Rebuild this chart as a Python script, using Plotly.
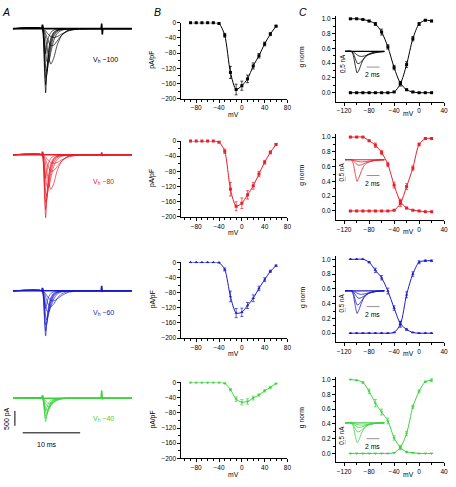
import plotly.graph_objects as go

W, H = 456, 487

def fx(x):
    return x / W

def fy(y):
    return 1 - y / H

COLORS = ["#000000", "#e8202a", "#1c1cc8", "#3fd23f"]
VH_LABELS = ["V<sub>h</sub> −100", "V<sub>h</sub> −80", "V<sub>h</sub> −60", "V<sub>h</sub> −40"]
SYMBOLS = ["square", "square", "triangle-up", "triangle-down"]

# ---------------- A: current traces (ms, pA) ----------------
T_A = [0, 5.1, 5.3, 5.5, 5.7, 5.9, 6.2, 6.6, 7.1, 7.7, 8.5, 9.6, 11.0, 13.0, 20.7]

A_ROW1 = [
    [0, 0, -300, -1400, -2170, -1450, -750, -320, -120, -45, -12, 0, 0, 0, 0],
    [0, 0, -250, -1150, -1900, -1500, -850, -400, -150, -55, -15, -3, 0, 0, 0],
    [0, 0, -200, -900, -1650, -1550, -1000, -480, -190, -70, -20, -5, 0, 0, 0],
    [0, 0, -150, -650, -1300, -1450, -1150, -620, -260, -95, -30, -8, 0, 0, 0],
    [0, 0, -100, -380, -800, -1100, -1150, -800, -400, -160, -55, -12, 0, 0, 0],
    [0, 0, -50, -150, -330, -580, -930, -1200, -1000, -560, -220, -50, -8, 0, 0],
    [0, 0, -30, -80, -170, -290, -440, -580, -560, -420, -220, -70, -15, 0, 0],
    [0, 0, -15, -40, -80, -130, -200, -270, -300, -270, -180, -80, -25, -5, 0],
    [0, 0, -120, -500, -850, -600, -300, -130, -50, -15, -5, 0, 0, 0, 0],
]
A_ROW2 = [
    [0, 0, -280, -1350, -2130, -1420, -730, -310, -115, -40, -10, 0, 0, 0, 0],
    [0, 0, -240, -1100, -1850, -1450, -820, -380, -140, -50, -14, -3, 0, 0, 0],
    [0, 0, -190, -850, -1600, -1500, -980, -470, -180, -65, -18, -4, 0, 0, 0],
    [0, 0, -140, -620, -1250, -1400, -1120, -600, -250, -90, -28, -7, 0, 0, 0],
    [0, 0, -95, -360, -760, -1050, -1100, -780, -390, -150, -50, -10, 0, 0, 0],
    [0, 0, -45, -140, -320, -560, -900, -1170, -980, -540, -210, -45, -7, 0, 0],
    [0, 0, -28, -75, -160, -280, -420, -560, -540, -400, -210, -65, -12, 0, 0],
    [0, 0, -14, -38, -75, -125, -190, -260, -290, -260, -170, -75, -22, -4, 0],
    [0, 0, -110, -470, -800, -570, -280, -120, -45, -14, -4, 0, 0, 0, 0],
]
A_ROW3 = [
    [0, 0, -220, -1000, -1530, -1050, -540, -230, -85, -30, -8, 0, 0, 0, 0],
    [0, 0, -180, -820, -1350, -1100, -620, -290, -110, -40, -10, 0, 0, 0, 0],
    [0, 0, -140, -620, -1150, -1100, -730, -360, -140, -50, -14, -3, 0, 0, 0],
    [0, 0, -100, -430, -850, -980, -800, -450, -190, -70, -20, -5, 0, 0, 0],
    [0, 0, -60, -230, -480, -680, -720, -540, -280, -110, -35, -8, 0, 0, 0],
    [0, 0, -30, -90, -200, -330, -480, -540, -450, -260, -100, -25, -4, 0, 0],
    [0, 0, -15, -45, -95, -160, -240, -320, -340, -280, -160, -55, -12, 0, 0],
    [0, 0, -90, -350, -600, -430, -210, -90, -35, -10, -3, 0, 0, 0, 0],
]
A_ROW4 = [
    [0, 0, -120, -520, -800, -560, -290, -130, -50, -18, -5, 0, 0, 0, 0],
    [0, 0, -100, -430, -700, -580, -340, -160, -60, -22, -6, 0, 0, 0, 0],
    [0, 0, -80, -330, -600, -560, -380, -190, -75, -28, -8, 0, 0, 0, 0],
    [0, 0, -55, -230, -470, -500, -400, -230, -95, -35, -10, 0, 0, 0, 0],
    [0, 0, -35, -140, -320, -400, -380, -260, -120, -45, -12, -2, 0, 0, 0],
    [0, 0, -20, -70, -170, -250, -290, -250, -150, -65, -20, -4, 0, 0, 0],
    [0, 0, -10, -35, -80, -130, -170, -170, -130, -70, -25, -6, 0, 0, 0],
    [0, 0, -70, -280, -450, -320, -160, -70, -25, -8, -2, 0, 0, 0, 0],
]
A_ROWS = [A_ROW1, A_ROW2, A_ROW3, A_ROW4]

# baseline with stimulus artifacts
ART_T = [0, 5.0, 5.15, 5.3, 15.35, 15.45, 15.55, 15.65, 20.7]
ART_ROWS = [
    [0, 0, 130, 0, 0, 170, -200, 0, 0],
    [0, 0, 100, 0, 0, 80, -40, 0, 0],
    [0, 0, 100, 0, 0, 170, -40, 0, 0],
    [0, 0, 100, 0, 0, 260, -40, 0, 0],
]

# ---------------- B: I-V (mV, pA/pF) ----------------
V_B = [-90, -80, -70, -60, -50, -40, -30, -20, -10, 0, 10, 20, 30, 40, 50, 60]
B_MEAN = [
    [0, 0, 0, 0, 0, -2, -33, -131, -176, -166, -148, -114, -87, -56, -30, -9],
    [0, 0, 0, 0, 0, -3, -27, -127, -172, -164, -142, -118, -87, -56, -30, -9],
    [0, 0, 0, 0, 0, -1, -19, -90, -134, -132, -114, -95, -69, -46, -24, -9],
    [0, 0, 0, 0, 0, 0, -2, -19, -44, -52, -50, -41, -33, -22, -13, -3],
]
B_ERR = [
    [1, 1, 1, 1, 1, 2, 5, 16, 14, 12, 10, 8, 6, 5, 4, 2],
    [1, 1, 1, 1, 1, 2, 6, 18, 12, 14, 11, 9, 7, 5, 4, 2],
    [1, 1, 1, 1, 1, 1, 4, 14, 12, 11, 8, 9, 6, 5, 3, 2],
    [1, 1, 1, 1, 1, 1, 1, 3, 6, 7, 7, 5, 3, 3, 2, 1],
]

# ---------------- C: normalised conductance ----------------
V_C = [-110, -100, -90, -80, -70, -60, -50, -40, -30, -20, -10, 0, 10, 20]
INACT = [
    [1.0, 1.0, 0.99, 0.97, 0.93, 0.82, 0.62, 0.34, 0.13, 0.04, 0.01, 0.0, 0.0, 0.0],
    [1.0, 1.0, 1.0, 0.95, 0.89, 0.79, 0.63, 0.35, 0.13, 0.04, 0.01, 0.0, -0.01, -0.01],
    [1.0, 1.0, 1.0, 0.96, 0.85, 0.75, 0.57, 0.34, 0.13, 0.05, 0.01, 0.0, 0.0, 0.0],
    [1.0, 0.99, 0.96, 0.84, 0.68, 0.56, 0.44, 0.21, 0.08, 0.02, 0.01, 0.0, 0.0, 0.0],
]
INACT_ERR = [
    [0, 0, 0, 0.01, 0.02, 0.04, 0.03, 0.03, 0.02, 0.01, 0, 0, 0, 0],
    [0, 0, 0, 0.01, 0.03, 0.03, 0.03, 0.04, 0.03, 0.01, 0, 0, 0, 0],
    [0, 0, 0, 0.01, 0.03, 0.03, 0.04, 0.03, 0.03, 0.01, 0, 0, 0, 0],
    [0, 0, 0.01, 0.03, 0.05, 0.04, 0.04, 0.03, 0.02, 0.01, 0, 0, 0, 0],
]
ACT = [
    [0, 0, 0, 0, 0, 0, 0, 0.01, 0.12, 0.38, 0.73, 0.93, 0.98, 0.97],
    [0, 0, 0, 0, 0, 0, 0, 0.01, 0.10, 0.33, 0.58, 0.90, 0.98, 0.98],
    [0, 0, 0, 0, 0, 0, 0, 0.01, 0.12, 0.52, 0.80, 0.96, 0.98, 0.98],
    [0, 0, 0, 0, 0, 0, 0, 0.01, 0.08, 0.27, 0.63, 0.84, 0.97, 0.99],
]
ACT_ERR = [
    [0, 0, 0, 0, 0, 0, 0, 0, 0.03, 0.04, 0.03, 0.02, 0.01, 0.01],
    [0, 0, 0, 0, 0, 0, 0, 0, 0.04, 0.04, 0.03, 0.02, 0.01, 0.01],
    [0, 0, 0, 0, 0, 0, 0, 0, 0.04, 0.04, 0.03, 0.02, 0.01, 0.01],
    [0, 0, 0, 0, 0, 0, 0, 0, 0.03, 0.03, 0.02, 0.02, 0.01, 0.02],
]

# ---------------- C insets: example currents (ms, nA) ----------------
T_IN = [0, 1.0, 1.3, 1.6, 1.9, 2.2, 2.6, 3.0, 3.5, 4.2, 5.0, 6.2]
IN_TRACES = [
    [[0, 0, -0.2, -0.7, -1.1, -0.95, -0.6, -0.35, -0.18, -0.07, -0.02, 0],
     [0, 0, -0.1, -0.35, -0.6, -0.62, -0.5, -0.35, -0.2, -0.1, -0.04, 0],
     [0, 0, -0.03, -0.1, -0.18, -0.24, -0.26, -0.24, -0.19, -0.12, -0.06, -0.02]],
    [[0, 0, -0.2, -0.7, -1.1, -0.9, -0.55, -0.3, -0.15, -0.06, -0.02, 0],
     [0, 0, -0.05, -0.15, -0.25, -0.28, -0.25, -0.2, -0.13, -0.07, -0.03, 0],
     [0, 0, -0.02, -0.05, -0.08, -0.1, -0.11, -0.1, -0.08, -0.05, -0.02, 0]],
    [[0, 0, -0.2, -0.75, -1.15, -0.95, -0.6, -0.33, -0.16, -0.06, -0.02, 0],
     [0, 0, -0.12, -0.45, -0.72, -0.68, -0.5, -0.32, -0.17, -0.07, -0.02, 0],
     [0, 0, -0.05, -0.18, -0.32, -0.38, -0.34, -0.26, -0.16, -0.08, -0.03, 0],
     [0, 0, -0.02, -0.06, -0.12, -0.16, -0.18, -0.16, -0.12, -0.07, -0.03, 0]],
    [[0, 0, -0.18, -0.65, -1.0, -0.85, -0.52, -0.28, -0.13, -0.05, -0.01, 0],
     [0, 0, -0.08, -0.28, -0.45, -0.45, -0.36, -0.24, -0.13, -0.05, -0.02, 0],
     [0, 0, -0.04, -0.12, -0.2, -0.23, -0.21, -0.16, -0.1, -0.05, -0.02, 0],
     [0, 0, -0.02, -0.05, -0.08, -0.1, -0.11, -0.1, -0.08, -0.05, -0.02, 0]],
]

# ---------------- layout geometry (pixels) ----------------
A_BASE = [25, 153, 291, 400]
B_TOP = [19, 139, 262, 384]
B_H = 77
C_TOP = [12, 132, 256, 378]
C_H = 87
IN_BASE = [48, 158, 291, 425]
VH_Y = [57, 181, 313, 421]

FONT = "Liberation Sans, Arial, sans-serif"
TICK_FS = 6.5
LAB_FS = 6.8

fig = go.Figure()
layout = dict(
    width=W, height=H, margin=dict(l=0, r=0, t=0, b=0),
    paper_bgcolor="white", plot_bgcolor="rgba(0,0,0,0)", showlegend=False,
    font=dict(family=FONT, size=7, color="black"),
)
annotations = []
shapes = []
counter = [0]


def label(x, y, text, size=LAB_FS, color="black", angle=0, xanchor="center"):
    annotations.append(dict(x=fx(x), y=fy(y), xref="paper", yref="paper", text=text,
                            showarrow=False, xanchor=xanchor, yanchor="middle",
                            textangle=angle, font=dict(size=size, color=color, family=FONT)))


def new_axes(xpx, ypx, xr, yr, xextra=None, yextra=None):
    counter[0] += 1
    n = counter[0]
    xk = "xaxis" if n == 1 else f"xaxis{n}"
    yk = "yaxis" if n == 1 else f"yaxis{n}"
    xa = dict(domain=[fx(xpx[0]), fx(xpx[1])], range=xr, anchor=f"y{'' if n == 1 else n}",
              showgrid=False, zeroline=False, fixedrange=True)
    ya = dict(domain=[fy(ypx[1]), fy(ypx[0])], range=yr, anchor=f"x{'' if n == 1 else n}",
              showgrid=False, zeroline=False, fixedrange=True)
    if xextra:
        xa.update(xextra)
    else:
        xa.update(visible=False)
    if yextra:
        ya.update(yextra)
    else:
        ya.update(visible=False)
    layout[xk] = xa
    layout[yk] = ya
    return ("x" if n == 1 else f"x{n}"), ("y" if n == 1 else f"y{n}")


def axis_style(tickvals, minorvals, fmt=None):
    d = dict(showline=True, linecolor="black", linewidth=1, ticks="outside", ticklen=3,
             tickwidth=1, tickcolor="black", tickvals=tickvals,
             tickfont=dict(family=FONT, size=TICK_FS, color="black"),
             minor=dict(ticks="outside", ticklen=2, tickwidth=1, tickcolor="black",
                        tickvals=minorvals, showgrid=False))
    if fmt:
        d["tickformat"] = fmt
    return d


PX_PER_MS = 5.8
PX_PER_PA = 0.03

for r in range(4):
    col = COLORS[r]
    # ---- A ----
    base = A_BASE[r]
    xa, ya = new_axes([13, 133], [base - 12, base + 80],
                      [0, 120 / PX_PER_MS], [-80 / PX_PER_PA, 12 / PX_PER_PA])
    fig.add_trace(go.Scatter(x=ART_T, y=ART_ROWS[r], xaxis=xa, yaxis=ya, mode="lines",
                             line=dict(color=col, width=1.6), hoverinfo="skip", cliponaxis=False))
    for tr in A_ROWS[r]:
        fig.add_trace(go.Scatter(x=T_A, y=tr, xaxis=xa, yaxis=ya, mode="lines",
                                 line=dict(color=col, width=0.7, shape="spline", smoothing=0.6),
                                 hoverinfo="skip", cliponaxis=False))
    label(92, VH_Y[r], VH_LABELS[r], size=7, color=col, xanchor="left")
    if r == 3:
        # scale bars: 500 pA and 10 ms
        shapes.append(dict(type="line", xref=xa, yref=ya, x0=0.35, x1=0.35, y0=-430, y1=-930,
                           line=dict(color="black", width=1)))
        shapes.append(dict(type="line", xref=xa, yref=ya, x0=1.7, x1=11.7, y0=-1170, y1=-1170,
                           line=dict(color="black", width=1)))
        label(7, 420, "500 pA", size=7, angle=-90)
        label(47, 447, "10 ms", size=7)

    # ---- B ----
    top = B_TOP[r]
    xb, yb = new_axes([183, 290], [top, top + B_H], [-106, 80], [-200, 0],
                      xextra=axis_style([-80, -40, 0, 40, 80], list(range(-100, 81, 10))),
                      yextra=axis_style([0, -40, -80, -120, -160, -200], list(range(-200, 1, 20))))
    fig.add_trace(go.Scatter(x=V_B, y=B_MEAN[r], xaxis=xb, yaxis=yb, mode="lines+markers",
                             line=dict(color=col, width=1, shape="spline", smoothing=0.7),
                             marker=dict(symbol=SYMBOLS[r], size=3, color=col),
                             error_y=dict(type="data", array=B_ERR[r], color=col, thickness=0.7, width=1.5),
                             hoverinfo="skip", cliponaxis=False))
    label(154, top + 38, "pA/pF", angle=-90)
    label(236, top + 93, "mV")

    # ---- C ----
    ctop = C_TOP[r]
    xc, yc = new_axes([339, 448], [ctop, ctop + C_H], [-133, 40], [-0.12, 1.04],
                      xextra=axis_style([-120, -80, -40, 0, 40], list(range(-120, 41, 20))),
                      yextra=axis_style([0, 0.2, 0.4, 0.6, 0.8, 1.0],
                                        [0.1, 0.3, 0.5, 0.7, 0.9], fmt=".1f"))
    for vals, errs in ((INACT[r], INACT_ERR[r]), (ACT[r], ACT_ERR[r])):
        fig.add_trace(go.Scatter(x=V_C, y=vals, xaxis=xc, yaxis=yc, mode="lines+markers",
                                 line=dict(color=col, width=1, shape="spline", smoothing=0.8),
                                 marker=dict(symbol=SYMBOLS[r], size=3, color=col),
                                 error_y=dict(type="data", array=errs, color=col, thickness=0.7, width=1.5),
                                 hoverinfo="skip", cliponaxis=False))
    label(305, ctop + 42, "g norm", angle=-90)
    label(412, ctop + 99, "mV")

    # ---- inset ----
    ib = IN_BASE[r]
    xi, yi = new_axes([348, 388], [ib - 3, ib + 26], [0, 6.2], [-1.3, 0.15])
    fig.add_trace(go.Scatter(x=[0, 6.2], y=[0, 0], xaxis=xi, yaxis=yi, mode="lines",
                             line=dict(color=col, width=1.2), hoverinfo="skip", cliponaxis=False))
    for tr in IN_TRACES[r]:
        fig.add_trace(go.Scatter(x=T_IN, y=tr, xaxis=xi, yaxis=yi, mode="lines",
                                 line=dict(color=col, width=0.8, shape="spline", smoothing=0.6),
                                 hoverinfo="skip", cliponaxis=False))
    shapes.append(dict(type="line", xref=xi, yref=yi, x0=3.4, x1=5.4, y0=-0.8, y1=-0.8,
                       line=dict(color="#777777", width=0.8)))
    shapes.append(dict(type="line", xref=xi, yref=yi, x0=0.0, x1=0.0, y0=-0.85, y1=-1.1,
                       line=dict(color="#777777", width=0.8)))
    label(376, ib + 24, "2 ms", size=6.8)
    label(345, ib + 12, "0.5 nA", size=6.3, angle=-90)

for txt, x in (("A", 6), ("B", 159), ("C", 306)):
    label(x, 8, f"<i>{txt}</i>", size=10.5)

layout["annotations"] = annotations
layout["shapes"] = shapes
fig.update_layout(**layout)
fig.write_html("out.html", config={"displayModeBar": False, "staticPlot": True},
               post_script="document.body.style.margin='0px';document.body.style.overflow='hidden';")
